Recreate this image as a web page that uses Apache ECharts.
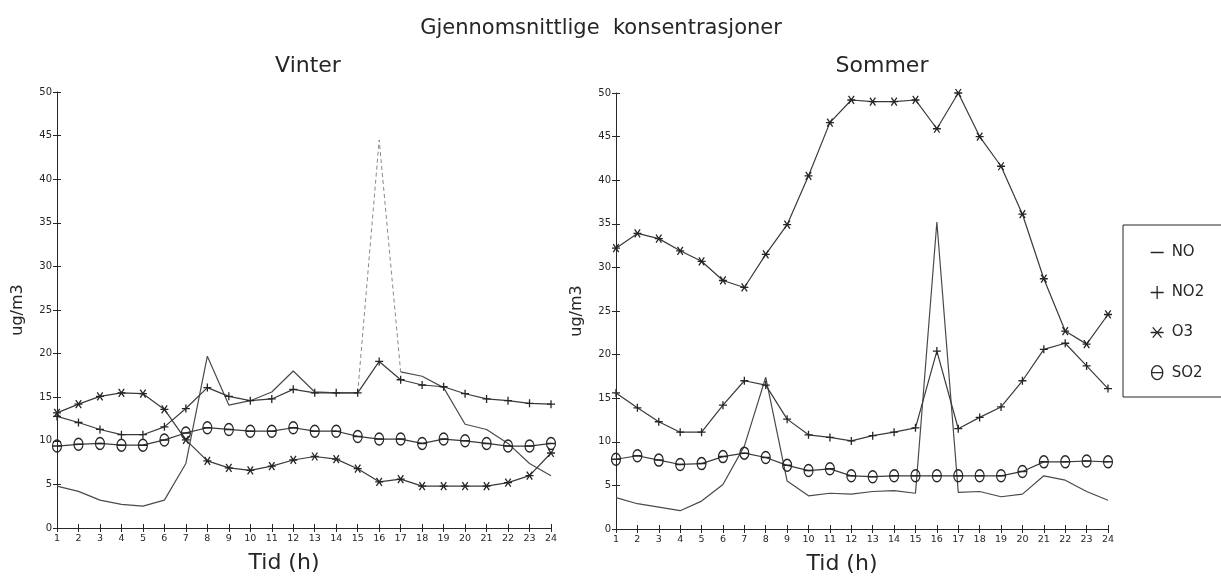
<!DOCTYPE html>
<html>
<head>
<meta charset="utf-8">
<title>Gjennomsnittlige konsentrasjoner</title>
<script src="https://cdn.jsdelivr.net/npm/echarts@6/dist/echarts.min.js"></script>
<style>
  html, body { margin: 0; padding: 0; background: #fff; }
  #chart { width: 1221px; height: 581px; }
</style>
</head>
<body>
<div id="chart"></div>
<script>
// Hours of the day (x axis)
const hours = [1,2,3,4,5,6,7,8,9,10,11,12,13,14,15,16,17,18,19,20,21,22,23,24];

// Winter averages, ug/m3
const vinterNO  = [4.8,4.2,3.2,2.7,2.5,3.2,7.4,19.7,14.1,14.6,15.6,18.0,15.6,15.5,15.5,44.5,17.9,17.4,16.1,11.9,11.3,9.7,7.4,6.0];
const vinterNO2 = [12.8,12.1,11.3,10.7,10.7,11.6,13.7,16.1,15.1,14.6,14.8,15.9,15.5,15.5,15.5,19.1,17.0,16.4,16.2,15.4,14.8,14.6,14.3,14.2];
const vinterO3  = [13.2,14.2,15.1,15.5,15.4,13.6,10.1,7.7,6.9,6.6,7.1,7.8,8.2,7.9,6.8,5.3,5.6,4.8,4.8,4.8,4.8,5.2,6.0,8.6];
const vinterSO2 = [9.4,9.6,9.7,9.5,9.5,10.1,10.9,11.5,11.3,11.1,11.1,11.5,11.1,11.1,10.5,10.2,10.2,9.7,10.2,10.0,9.7,9.4,9.4,9.7];

// Summer averages, ug/m3
const sommerNO  = [3.6,2.9,2.5,2.1,3.2,5.1,9.5,17.4,5.5,3.8,4.1,4.0,4.3,4.4,4.1,35.2,4.2,4.3,3.7,4.0,6.1,5.6,4.3,3.3];
const sommerNO2 = [15.6,13.9,12.3,11.1,11.1,14.2,17.0,16.5,12.6,10.8,10.5,10.1,10.7,11.1,11.6,20.4,11.5,12.8,14.0,17.0,20.6,21.3,18.7,16.1];
const sommerO3  = [32.2,33.9,33.3,31.9,30.7,28.5,27.7,31.5,34.9,40.5,46.6,49.2,49.0,49.0,49.2,45.9,50.0,45.0,41.6,36.1,28.7,22.7,21.2,24.6];
const sommerSO2 = [8.0,8.4,7.9,7.4,7.5,8.3,8.7,8.2,7.3,6.7,6.9,6.1,6.0,6.1,6.1,6.1,6.1,6.1,6.1,6.6,7.7,7.7,7.8,7.7];

// Labels
const mainTitle = 'Gjennomsnittlige  konsentrasjoner';
const panelTitles = ['Vinter', 'Sommer'];
const yName = 'ug/m3';
const xName = 'Tid (h)';
const componentNames = ['NO', 'NO2', 'O3', 'SO2'];

const INK = '#262626';
const FONT = 'DejaVu Sans';

const SYM_PLUS = 'path://M0,5L10,5M5,0L5,10';
const SYM_STAR = 'path://M0,5L10,5M1.6,1L8.4,9M8.4,1L1.6,9';
const SYM_DASH = 'path://M0,0L0.01,0M0,5L10,5M0,10L0.01,10';
const SYM_THETA = 'path://M5,0A4,5,0,1,1,4.99,0ZM1,5L9,5';

const pairs = (arr) => arr.map((v, i) => [hours[i], v]);

// Each panel gets a labelled axis with outward ticks plus a bare twin with inward
// ticks, so every tick mark crosses the axis line.
function xAxes(grid) {
  return [
    {
      type: 'value', gridIndex: grid, position: 'bottom', min: 1, max: 24, interval: 1,
      name: xName, nameLocation: 'middle', nameGap: 24,
      nameTextStyle: { fontFamily: FONT, fontSize: 22, color: INK, padding: [0, 40, 0, 0] },
      axisLine: { lineStyle: { color: INK, width: 1 } },
      axisTick: { length: 4, lineStyle: { color: INK } },
      axisLabel: { fontFamily: FONT, fontSize: 9.5, color: INK, margin: 6 },
      splitLine: { show: false }
    },
    {
      type: 'value', gridIndex: grid, position: 'bottom', min: 1, max: 24, interval: 1,
      axisLine: { show: false },
      axisTick: { inside: true, length: 4, lineStyle: { color: INK } },
      axisLabel: { show: false },
      splitLine: { show: false }
    }
  ];
}

function yAxes(grid) {
  return [
    {
      type: 'value', gridIndex: grid, position: 'left', min: 0, max: 50, interval: 5,
      name: yName, nameLocation: 'middle', nameRotate: 90, nameGap: 31,
      nameTextStyle: { fontFamily: FONT, fontSize: 16, color: INK },
      axisLine: { show: true, lineStyle: { color: INK, width: 1 } },
      axisTick: { show: true, length: 4, lineStyle: { color: INK } },
      axisLabel: { fontFamily: FONT, fontSize: 10, color: INK, margin: 5 },
      splitLine: { show: false }
    },
    {
      type: 'value', gridIndex: grid, position: 'left', min: 0, max: 50, interval: 5,
      axisLine: { show: false },
      axisTick: { show: true, inside: true, length: 4, lineStyle: { color: INK } },
      axisLabel: { show: false },
      splitLine: { show: false }
    }
  ];
}

function seriesFor(grid, no, no2, o3, so2, dashedPeak) {
  const xi = grid * 2, yi = grid * 2;
  const base = { type: 'line', xAxisIndex: xi, yAxisIndex: yi, animation: false, smooth: false };
  const mk = (name, data, symbol, size, lineColor) => Object.assign({}, base, {
    name, data, symbol, symbolSize: size, showSymbol: symbol !== 'none',
    lineStyle: { color: lineColor, width: 1.2 },
    itemStyle: { color: 'rgba(0,0,0,0)', borderColor: INK, borderWidth: 1.3 },
    z: 3
  });
  const list = [];
  let noData = pairs(no);
  if (dashedPeak) {
    // the peak hour is drawn separately as a thin dashed stroke
    noData = noData.map((p, i) => (i === 15 ? [p[0], null] : p));
  }
  list.push(Object.assign(mk('NO', noData, 'none', 0, '#4a4a4a'), { connectNulls: false }));
  if (dashedPeak) {
    list.push(Object.assign({}, base, {
      name: 'NO-topp', data: pairs(no).slice(14, 17), symbol: 'none',
      lineStyle: { color: '#8a8a8a', width: 1, type: [4, 3] }, z: 2
    }));
  }
  list.push(mk('NO2', pairs(no2), SYM_PLUS, 8, '#3a3a3a'));
  list.push(mk('O3', pairs(o3), SYM_STAR, 8, '#3a3a3a'));
  list.push(mk('SO2', pairs(so2), SYM_THETA, [9, 12], '#3a3a3a'));
  return list;
}

const chart = echarts.init(document.getElementById('chart'), null, { renderer: 'canvas' });

const legendIcons = { NO: SYM_DASH, NO2: SYM_PLUS, O3: SYM_STAR, SO2: SYM_THETA };

chart.setOption({
  backgroundColor: '#ffffff',
  animation: false,
  title: [
    { text: mainTitle, left: 601, top: 18, textAlign: 'center', padding: 0,
      textStyle: { fontFamily: FONT, fontSize: 21, fontWeight: 'normal', color: INK } },
    { text: panelTitles[0], left: 308, top: 55, textAlign: 'center', padding: 0,
      textStyle: { fontFamily: FONT, fontSize: 22, fontWeight: 'normal', color: INK } },
    { text: panelTitles[1], left: 882, top: 55, textAlign: 'center', padding: 0,
      textStyle: { fontFamily: FONT, fontSize: 22, fontWeight: 'normal', color: INK } }
  ],
  graphic: [
    { type: 'rect', shape: { x: 1123, y: 225, width: 120, height: 172 },
      style: { fill: 'none', stroke: INK, lineWidth: 1 }, silent: true }
  ],
  legend: {
    orient: 'vertical', left: 1150, top: 245, padding: 0,
    itemWidth: 13, itemHeight: 14, itemGap: 25,
    textStyle: { fontFamily: FONT, fontSize: 15, color: INK, padding: [0, 0, 0, 3] },
    selectedMode: false,
    data: componentNames.map(n => ({
      name: n, icon: legendIcons[n],
      itemStyle: { color: 'rgba(0,0,0,0)', borderColor: INK, borderWidth: 1.3 }
    }))
  },
  grid: [
    { left: 57, top: 92, width: 494, height: 436 },
    { left: 616, top: 93, width: 492, height: 436 }
  ],
  xAxis: [].concat(xAxes(0), xAxes(1)),
  yAxis: [].concat(yAxes(0), yAxes(1)),
  series: [].concat(
    seriesFor(0, vinterNO, vinterNO2, vinterO3, vinterSO2, true),
    seriesFor(1, sommerNO, sommerNO2, sommerO3, sommerSO2, false)
  )
});
</script>
</body>
</html>
